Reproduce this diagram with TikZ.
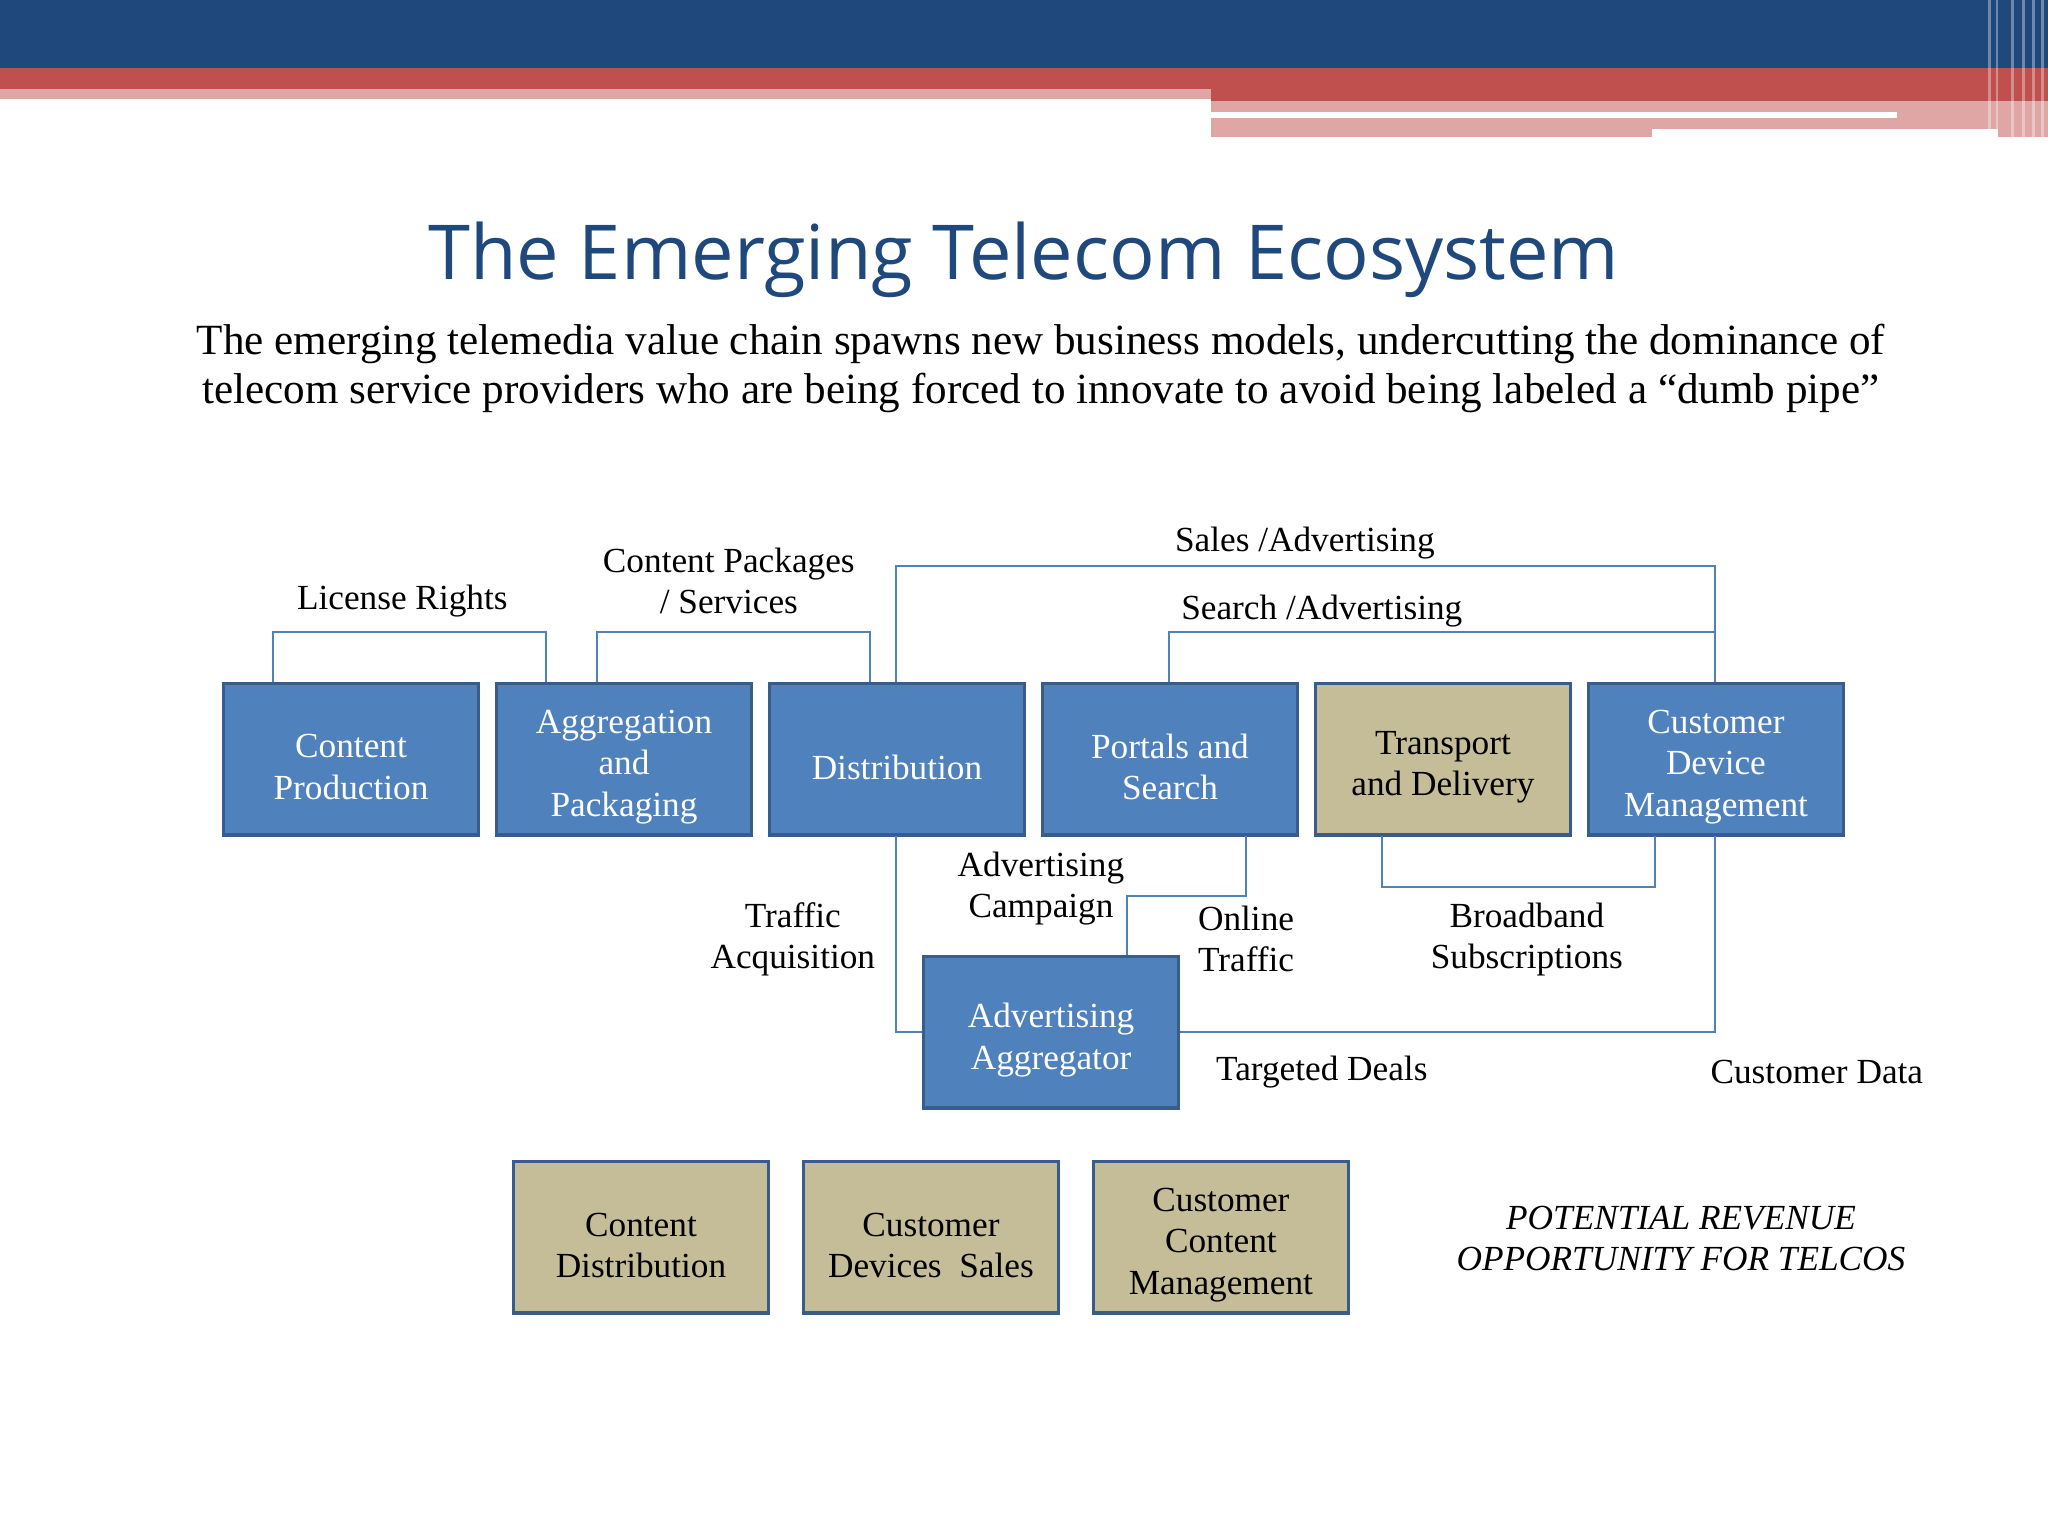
\documentclass[tikz,border=0pt]{standalone}
\usepackage{fontspec}
\setmainfont{Liberation Serif}
\newfontfamily\titlefont{Open Sans}
\definecolor{dblue}{HTML}{1F497D}
\definecolor{bred}{HTML}{C0504D}
\definecolor{bpink}{HTML}{E0A6A6}
\definecolor{boxblue}{HTML}{4F81BD}
\definecolor{boxedge}{HTML}{385D8A}
\definecolor{tan}{HTML}{C4BD97}
\begin{document}
\begin{tikzpicture}[x=1pt,y=-1pt,
  bx/.style={draw=boxedge,line width=2.5pt,minimum width=195pt,minimum height=116pt,anchor=north west,inner sep=0pt},
  bb/.style={bx,fill=boxblue},
  tb/.style={bx,fill=tan},
  wt/.style={align=center,font=\fontsize{27}{31.5}\selectfont,text=white},
  kt/.style={align=center,font=\fontsize{27}{31.5}\selectfont,text=black},
  ln/.style={draw=boxblue,line width=1.5pt},
  lb/.style={align=center,font=\fontsize{27}{31.5}\selectfont}]
\useasboundingbox (0,0) rectangle (1568,1176);
\fill[white] (0,0) rectangle (1568,1176);
% banner
\fill[bred] (0,52) rectangle (1568,68);
\fill[bpink] (0,68) rectangle (927,76);
\fill[bred] (927,52) rectangle (1568,77);
\fill[bpink] (927,77) rectangle (1568,105);
\fill[white] (927,86) rectangle (1452,90);
\fill[white] (1265,99) rectangle (1530,105);
\fill[dblue] (0,0) rectangle (1568,52);
\foreach \x in {1522,1528,1540,1548,1556,1563}{\fill[white,opacity=0.35] (\x,0) rectangle (\x+2,105);}
% title
\node[text=dblue,font=\titlefont\fontsize{58}{68}\selectfont] (title) at (784,199) {The Emerging Telecom Ecosystem};
\node[align=center,font=\fontsize{33}{37}\selectfont] (sub) at (797,282) {The emerging telemedia value chain spawns new business models, undercutting the dominance of\\telecom service providers who are being forced to innovate to avoid being labeled a “dumb pipe”};
% boxes
\node[bb] (cp) at (170,522) {};
\node[bb] (ap) at (379,522) {};
\node[bb] (di) at (588,522) {};
\node[bb] (ps) at (797,522) {};
\node[tb] (td) at (1006,522) {};
\node[bb] (cd) at (1215,522) {};
\node[bb] (aa) at (706,731) {};
\node[tb] (cdi) at (392,888) {};
\node[tb] (cds) at (614,888) {};
\node[tb] (ccm) at (836,888) {};
\node[wt] (cpt) at ([yshift=-6pt]cp.center) {Content\\Production};
\node[wt] (apt) at ([yshift=-6pt]ap.center) {Aggregation\\and\\Packaging};
\node[wt] (dit) at ([yshift=-6pt]di.center) {Distribution};
\node[wt] (pst) at ([yshift=-6pt]ps.center) {Portals and\\Search};
\node[kt] (tdt) at ([yshift=-6pt]td.center) {Transport\\and Delivery};
\node[wt] (cdt) at ([yshift=-6pt]cd.center) {Customer\\Device\\Management};
\node[wt] (aat) at ([yshift=-6pt]aa.center) {Advertising\\Aggregator};
\node[kt] (cdit) at ([yshift=-6pt]cdi.center) {Content\\Distribution};
\node[kt] (cdst) at ([yshift=-6pt]cds.center) {Customer\\Devices~ Sales};
\node[kt] (ccmt) at ([yshift=-6pt]ccm.center) {Customer\\Content\\Management};
% connectors
\draw[ln] (209,522) |- (418,484) -- (418,522);
\draw[ln] (457,522) |- (666,484) -- (666,522);
\draw[ln] (686,522) |- (1313,433) -- (1313,522);
\draw[ln] (895,522) |- (1313,484);
\draw[ln] (1058,640) |- (1267,679) -- (1267,640);
\draw[ln] (954,640) |- (863,686) -- (863,731);
\draw[ln] (686,640) |- (aa.west|-0,790);
\draw[ln] (1313,640) |- (aa.east|-0,790);
% labels
\node[lb] (l1) at (308,460) {License Rights};
\node[lb] (l2) at (558,445) {Content Packages\\/ Services};
\node[lb] (l3) at (999,416) {Sales /Advertising};
\node[lb] (l4) at (1012,468) {Search /Advertising};
\node[lb] (l5) at (797,680) {Advertising\\Campaign};
\node[lb] (l6) at (607,719) {Traffic\\Acquisition};
\node[lb] (l7) at (954,719) {Online\\Traffic};
\node[lb] (l8) at (1169,719) {Broadband\\Subscriptions};
\node[lb] (l9) at (1012,821) {Targeted Deals};
\node[lb] (l10) at (1391,821) {Customer Data};
\node[lb,font=\itshape\fontsize{27}{31.5}\selectfont] (l11) at (1287,948) {POTENTIAL REVENUE\\OPPORTUNITY FOR TELCOS};
\end{tikzpicture}
\end{document}
